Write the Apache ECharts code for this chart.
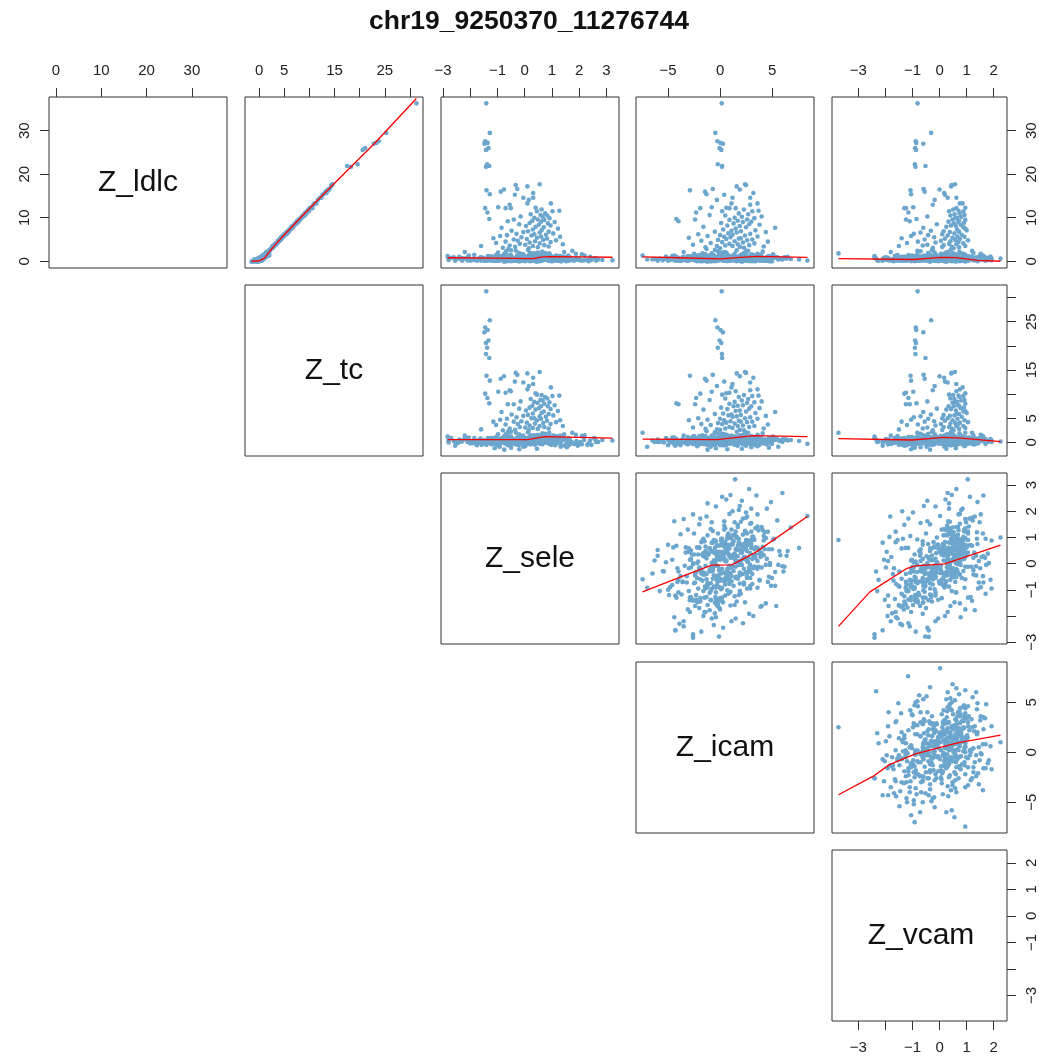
<!DOCTYPE html>
<html>
<head>
<meta charset="utf-8">
<script src="https://cdn.jsdelivr.net/npm/echarts@6/dist/echarts.min.js"></script>
<style>
  html, body { margin: 0; padding: 0; background: #ffffff; }
  #chart { width: 1039px; height: 1057px; }
</style>
</head>
<body>
<div id="chart"></div>
<script>
// Pairwise scatter matrix of association Z statistics for one region.
const titleText = 'chr19_9250370_11276744';
const variables = ['Z_ldlc', 'Z_tc', 'Z_sele', 'Z_icam', 'Z_vcam'];

// Axis tick positions and the subset of them that carry a label
const tickValues = [
  [0, 10, 20, 30],
  [0, 5, 10, 15, 20, 25, 30],
  [-3, -2, -1, 0, 1, 2, 3],
  [-5, 0, 5],
  [-3, -2, -1, 0, 1, 2]
];
const tickLabels = [
  [0, 10, 20, 30],
  [0, 5, 15, 25],
  [-3, -1, 0, 1, 2, 3],
  [-5, 0, 5],
  [-3, -1, 0, 1, 2]
];

// Each row: [Z_ldlc, Z_tc, Z_sele, Z_icam, Z_vcam]
const strongHits = [
  [36.3,31.3,-1.41,0.16,-0.81],[29.5,25.3,-1.28,-0.45,-0.31],[27.6,23.8,-1.45,-0.25,-0.88],
  [27.2,23.3,-1.36,0.05,-0.86],[27.0,22.8,-1.48,0.28,-0.60],[26.0,21.1,-1.33,-0.05,-0.90],
  [25.6,20.6,-1.42,0.12,-0.87],[22.3,19.6,-1.38,-0.22,-0.91],[21.9,17.5,-1.30,0.20,-0.52],
  [21.7,18.3,-1.42,0.18,-0.89]
];

const moderateHits = [
  [17.7,14.6,0.55,2.4,0.57],[17.5,14.4,-0.33,2.5,0.45],[17.2,14.3,0.10,1.6,0.43],[16.6,14.0,-0.27,-0.7,-0.59],
  [16.5,13.7,-0.76,1.9,0.00],[16.3,13.8,-1.40,-2.9,-1.07],[16.0,13.2,-0.88,-1.45,-0.55],[15.7,13.4,0.31,3.2,0.17],
  [15.4,12.8,-1.28,-1.3,-1.05],[15.3,12.6,-0.36,0.4,0.20],[14.6,12.4,-0.05,2.9,0.30],[14.6,12.1,0.31,1.2,0.62],
  [14.1,11.7,0.15,-0.3,-0.18],[13.3,11.0,0.10,3.6,0.75],[13.3,11.4,0.96,1.1,0.85],[13.0,10.8,-0.55,2.9,-0.25],
  [12.4,10.5,-0.97,-0.8,-0.97],[12.3,10.2,0.40,0.6,0.95],[12.2,10.1,-1.45,-1.9,-1.30],[12.2,10.3,-0.70,0.9,-1.24],
  [12.2,10.6,-0.51,1.5,0.62],[11.9,9.8,0.62,2.3,0.50],[11.6,9.7,1.27,3.7,0.70],[11.5,9.6,1.02,3.1,0.88],
  [11.5,9.9,0.45,0.2,0.35],[11.2,9.2,-1.37,-2.3,-1.15],[11.0,9.4,0.75,1.8,0.74],[10.8,9.0,0.22,2.7,0.55],
  [10.6,8.8,0.58,-1.0,0.92],[10.5,9.1,0.83,0.5,0.40],[10.3,8.5,-0.15,4.0,-0.45],[10.2,8.7,0.66,2.1,0.80],
  [10.0,8.4,0.35,1.4,0.65],[9.9,8.3,0.91,3.3,0.58],[9.7,8.1,-1.30,-4.2,-0.85],[9.6,8.2,0.48,2.6,0.48],
  [9.6,7.9,-0.40,-2.4,-1.24],[9.5,8.0,0.72,0.9,0.95],[9.3,7.6,0.28,1.7,0.72],[9.2,7.9,-0.62,-4.0,-1.10],
  [9.1,7.5,0.60,3.0,0.33],[9.0,7.7,1.10,2.2,0.68],[8.8,7.2,0.18,0.1,0.90],[8.7,7.5,0.85,1.3,0.52],
  [8.5,7.0,-0.20,2.8,-0.10],[8.4,7.1,0.52,3.8,0.78],[8.2,6.9,0.95,0.7,0.42],[8.1,6.6,0.05,1.9,0.60],
  [7.9,6.8,0.40,-1.6,0.25],[7.8,6.4,0.70,2.5,0.88],[7.7,6.3,-0.85,5.3,-0.60],[7.5,6.5,1.22,1.5,0.95],
  [7.3,6.0,0.30,0.3,0.65],[7.1,6.1,0.62,3.4,1.00],[7.0,5.8,-0.48,1.1,-0.32],[6.9,5.7,0.12,2.0,0.15],
  [6.8,5.9,0.88,-0.5,0.72],[6.7,5.5,-0.05,4.4,0.38],[6.6,5.4,0.55,1.6,-0.70],[6.4,5.6,1.05,0.8,0.55],
  [6.3,5.2,-0.30,2.9,-0.95],[6.2,5.0,0.35,-2.1,0.10],[6.1,5.3,0.78,1.2,0.82],[6.0,4.9,-0.65,0.0,-0.42],
  [5.9,5.0,0.25,2.4,0.30],[5.8,4.7,-0.90,-1.2,-1.05],[5.7,4.9,0.60,3.6,0.66],[5.6,4.6,1.30,0.4,0.92],
  [5.5,4.4,-0.12,1.0,-0.20],[5.4,4.6,0.45,-3.0,0.48],[5.3,4.3,-1.15,2.0,-1.40],[5.2,4.5,0.82,1.8,0.20],
  [5.1,4.1,0.08,0.6,0.75],[5.0,4.3,-0.40,3.1,-0.55],[4.9,4.0,0.68,-0.2,0.58],[4.8,4.2,1.15,2.6,1.05],
  [4.7,3.8,-0.25,-1.8,0.05],[4.6,3.9,0.38,1.4,0.40],[4.5,3.7,-0.70,4.6,-0.80],[4.4,3.8,0.95,0.2,0.70],
  [4.3,3.5,0.18,2.2,-0.15],[4.2,3.6,-1.05,-0.9,-1.20],[4.1,3.4,0.55,3.3,0.88],[4.0,3.2,-0.18,0.9,0.35],
  [3.9,3.4,1.40,1.7,0.62],[3.8,3.1,0.02,-2.6,-0.45],[3.7,3.2,0.72,2.8,0.15],[3.6,2.9,-0.55,0.5,-0.62],
  [3.5,3.0,0.30,1.2,0.95],[3.5,2.7,-1.60,-0.3,-1.50],[3.4,2.9,0.88,4.2,0.45],[3.3,2.6,-0.35,1.9,0.10],
  [3.2,2.8,0.48,-1.4,0.72],[3.1,2.5,-0.80,2.3,-0.25],[3.0,2.6,0.15,0.0,0.52]
];

const background = [
  [0.2,0.1,-0.35,0.8,-0.12],[0.6,0.4,0.52,1.9,0.40],[1.1,0.9,-1.20,-2.3,-0.75],[0.3,-0.2,0.10,-0.6,0.22],[0.0,-0.6,1.35,3.4,0.95],
  [0.9,1.2,-0.62,0.3,-0.48],[0.4,0.0,0.88,2.7,0.61],[1.6,1.3,-0.08,-1.4,0.05],[0.1,-0.4,-1.75,-3.1,-1.32],[0.7,0.8,0.31,1.1,-0.28],
  [0.5,0.3,-0.91,-0.4,0.18],[2.2,1.9,0.64,4.1,0.73],[0.3,0.1,1.72,2.2,1.10],[0.8,0.5,-0.27,0.0,-0.66],[0.2,-0.3,0.05,1.5,0.34],
  [1.3,1.0,-2.05,-4.4,-1.60],[0.6,0.2,0.40,-1.2,0.83],[0.1,0.3,-0.55,2.6,-0.20],[1.0,1.4,1.05,0.7,0.48],[0.4,-0.1,-0.15,-2.0,-0.95],
  [0.7,0.6,0.75,3.0,0.12],[0.2,-0.5,-1.40,-0.9,-0.41],[1.9,1.5,0.22,0.4,1.25],[0.5,0.7,-0.70,-3.6,-0.88],[0.0,-0.2,2.35,4.9,1.40],
  [0.3,0.2,-0.02,2.0,0.66],[1.4,1.1,-1.05,-1.6,-1.15],[0.8,0.3,0.58,0.9,-0.05],[0.2,0.0,-0.45,-0.2,0.28],[0.6,1.0,1.25,2.4,0.90],
  [1.2,0.8,-0.85,1.3,-0.52],[0.4,0.5,0.35,-2.7,0.07],[0.1,-0.7,-2.55,-4.3,-2.10],[0.9,0.6,0.95,5.2,0.57],[0.5,0.1,-0.30,0.6,-0.30],
  [2.6,2.1,0.12,-0.5,0.41],[0.3,-0.1,-1.62,-2.4,-0.72],[0.7,0.9,0.68,1.7,1.02],[0.2,0.4,-0.12,3.3,-0.58],[1.5,1.2,0.45,-0.1,0.15],
  [0.4,0.2,-0.78,-1.1,-1.05],[0.0,-0.3,1.52,2.9,0.75],[0.6,0.3,-0.20,0.2,0.52],[1.1,0.7,0.82,-1.8,-0.22],[0.3,0.6,-1.10,0.9,-0.15],
  [0.8,0.4,0.18,4.5,0.30],[0.2,-0.4,-0.58,-0.7,-1.40],[1.7,1.6,1.88,3.6,1.52],[0.5,0.2,-0.36,1.0,0.02],[0.1,0.1,0.60,0.5,0.95],
  [0.9,0.7,-1.30,-2.9,-0.62],[0.3,0.0,0.25,2.3,-0.40],[0.6,0.5,-0.05,-0.4,0.78],[2.0,1.7,-0.98,0.1,-0.18],[0.4,-0.2,1.10,1.4,0.25],
  [0.2,0.3,-0.48,-3.2,-0.35],[1.0,0.6,0.70,0.0,1.15],[0.7,0.4,-1.85,-1.5,-1.05],[0.1,-0.5,0.38,3.8,0.50],[0.5,0.8,-0.25,-1.0,-0.70],
  [1.3,0.9,1.60,2.0,0.38],[0.3,0.1,-0.68,0.4,-0.02],[0.0,-0.8,0.02,-2.2,0.60],[0.8,0.9,-2.70,-2.6,-2.40],[0.4,0.3,0.92,3.1,0.82],
  [0.6,0.0,-0.10,1.2,-0.55],[1.8,1.4,0.48,-0.8,0.20],[0.2,0.2,-1.20,1.8,-0.90],[0.9,0.5,0.30,-0.3,1.35],[0.3,-0.3,-0.60,-1.9,0.12],
  [0.5,0.6,1.40,4.0,0.68],[0.1,0.0,-0.40,0.8,-0.38],[1.2,1.0,0.15,-4.6,-0.25],[0.7,0.2,-0.88,-0.6,0.35],[0.2,-0.1,0.55,1.5,0.05],
  [2.4,2.0,-0.32,2.7,-0.82],[0.4,0.4,0.78,0.3,0.44],[0.8,0.3,-1.55,-0.2,-1.25],[0.0,-0.4,0.20,-1.3,0.92],[0.6,0.7,-0.15,3.5,0.27],
  [1.0,0.8,1.00,1.0,-0.10],[0.3,-0.2,-0.72,-2.4,-0.60],[0.5,0.5,0.42,2.1,1.28],[1.4,1.2,-0.50,0.7,-0.15],[0.2,0.1,2.05,1.8,0.80],
  [0.7,0.3,-0.18,-0.9,0.48],[0.1,-0.6,-1.00,-5.0,-1.20],[0.9,1.1,0.60,2.5,0.10],[0.4,0.0,-0.38,0.1,-0.45],[1.6,1.1,0.85,-1.5,0.62],
  [0.3,0.4,-1.45,1.6,-0.28],[0.6,0.2,0.12,0.6,0.35],[0.0,-0.1,-0.65,-1.7,-1.70],[1.1,0.6,1.22,4.6,1.05],[0.5,0.5,0.05,-0.5,-0.08],
  [0.2,-0.3,-0.95,2.9,-0.35],[0.8,0.7,0.50,-2.8,0.58],[0.4,0.1,-0.28,1.3,0.88],[1.9,1.8,0.75,0.2,-0.42],[0.1,0.2,-2.30,-3.9,-1.45],
  [0.6,0.4,0.32,5.8,0.72],[0.3,0.0,-0.52,-0.1,0.15],[1.3,1.3,1.15,0.8,1.60],[0.7,0.5,-1.12,-1.0,-0.78],[0.2,-0.4,0.65,2.2,-0.20],
  [0.5,0.3,-0.08,-3.4,0.30],[0.9,0.9,-0.80,0.5,-1.10],[0.0,-0.5,0.98,1.6,0.55],[1.5,1.0,0.25,3.9,0.95],[0.4,0.2,-1.70,-2.0,-0.50],
  [0.2,0.1,0.45,-0.7,0.02],[0.8,0.6,-0.35,1.9,0.68],[2.8,2.3,-0.60,-1.3,-0.25],[0.3,-0.2,1.80,2.6,1.30],[0.6,0.8,-0.22,0.0,-0.62],
  [1.0,0.5,0.08,-2.1,-0.88],[0.1,0.0,-1.38,-0.4,-0.05],[0.7,0.6,0.55,4.3,0.42],[0.4,0.1,-0.42,-1.6,0.75],[1.2,1.4,1.30,1.1,0.18],
  [0.3,0.3,-0.15,2.8,-0.30],[0.5,-0.1,0.70,-0.3,1.12],[0.9,0.4,-2.10,-0.8,-1.55],[0.2,0.2,0.28,0.9,-0.48],[1.7,1.3,-0.75,-2.5,0.05],
  [0.0,-0.3,1.02,3.2,0.62],[0.6,0.5,-0.50,0.6,-0.15],[0.4,0.7,0.35,-1.1,0.32],[1.1,0.9,-1.25,1.4,-1.30],[0.3,-0.1,0.88,0.1,0.88],
  [0.8,0.2,-0.30,-4.0,-0.68],[0.2,0.4,0.18,2.4,0.50],[2.1,1.7,1.45,0.4,0.28],[0.5,0.3,-0.82,-0.3,0.12],[0.1,-0.2,-0.05,1.8,-0.82],
  [0.7,0.8,0.62,-2.2,0.95],[0.4,0.0,-1.58,-1.2,-0.98],[1.3,1.1,0.40,2.9,-0.12],[0.2,-0.6,-0.62,0.3,0.40],[0.9,0.7,1.65,5.5,1.22],
  [0.5,0.2,-0.45,-0.6,-0.25],[0.1,0.1,0.22,1.0,0.70],[0.6,0.4,-2.80,-2.6,-0.40],[1.4,0.8,0.80,-0.8,0.35],[0.3,0.5,-0.12,3.7,-1.00],
  [0.8,0.6,0.10,0.5,1.45],[0.2,-0.2,-1.05,-3.0,-1.22],[1.0,1.2,0.52,1.6,0.08],[0.4,0.1,-0.25,-0.1,-0.55],[0.6,0.3,1.20,2.5,0.52],
  [0.3,0.0,-0.68,1.1,0.25],[1.8,1.5,0.35,-1.7,0.78],[0.5,0.4,-1.50,-0.5,-0.62],[0.1,-0.3,0.90,3.0,1.05],[0.9,0.8,-0.15,-2.8,-0.18],
  [0.4,0.6,0.58,0.7,-0.35],[0.7,0.2,-0.40,2.2,0.15],[0.2,0.1,1.58,1.4,0.98],[1.2,0.7,-0.95,-1.4,-0.92],[0.6,0.5,0.02,4.8,0.38],
  [0.0,-0.4,-0.22,-0.8,0.62],[0.8,1.0,0.72,1.2,-0.05],[0.3,0.2,-1.85,-2.9,-1.62],[1.5,1.2,0.28,0.0,0.55],[0.5,0.0,-0.58,1.7,-0.42],
  [0.2,0.3,1.08,-1.2,0.28],[0.6,0.6,-0.12,3.3,1.18],[2.3,1.8,-0.68,-0.2,-0.70],[0.4,-0.1,0.48,2.0,0.02],[0.1,0.0,-1.18,-3.7,-0.35],
  [1.0,0.9,0.38,0.8,0.68],[0.3,-0.3,-0.35,-1.5,-1.08],[0.7,0.5,2.60,3.5,1.62],[0.4,0.4,-0.78,0.9,0.20],[1.1,0.6,0.12,-0.6,-0.30],
  [0.5,0.2,-0.48,2.6,0.45],[0.2,0.5,0.85,-0.4,-0.62],[0.9,0.3,-1.32,-1.9,0.08],[0.6,0.7,0.22,1.3,0.90],[1.6,1.4,-0.05,2.1,-0.15],
  [0.3,-0.2,0.62,-3.3,0.48],[0.8,0.4,-0.92,0.2,-1.25],[0.1,0.2,0.32,4.2,0.15],[1.3,1.0,-0.28,-1.0,0.60],[0.4,0.3,1.35,0.5,0.35],
  [0.7,0.9,-0.65,-0.3,-0.48],[0.2,-0.1,0.05,2.7,-0.92],[1.0,0.6,-2.40,-3.5,-1.10],[0.5,0.3,0.95,1.8,1.38],[0.0,-0.2,-0.18,-1.9,-0.05],
  [2.0,1.6,0.48,0.6,0.25],[0.4,0.1,-0.55,1.5,0.82],[0.6,0.8,1.25,-0.7,0.40],[0.3,0.0,-1.02,0.7,-0.60],[0.9,0.5,0.18,3.1,-0.38],
  [0.1,-0.4,-0.32,-2.3,0.38],[0.7,0.7,0.78,2.4,0.72],[1.2,0.8,-0.75,-0.9,-0.82],[0.3,0.2,0.42,0.2,0.05],[0.5,0.1,-1.60,1.0,-1.35],
  [0.8,0.5,0.98,4.4,0.95],[0.2,0.0,-0.10,-0.2,-0.42],[1.4,1.3,0.60,-2.0,0.55],[0.6,0.2,-0.45,1.9,-0.20],[0.3,0.5,2.85,2.8,0.62],
  [0.9,0.6,-0.88,-1.3,-1.48],[0.4,0.3,0.30,1.3,0.30],[0.1,-0.5,-0.52,-0.5,0.50],[1.1,1.0,1.42,3.6,1.08],[0.5,0.4,-0.18,-3.0,-0.68],
  [0.2,-0.1,-1.22,0.5,-0.15],[1.7,1.2,0.18,1.4,0.88],[0.7,0.6,-0.38,-1.8,-0.35],[0.3,0.0,0.72,0.6,-0.08],[0.6,0.9,-0.85,2.9,0.22],
  [1.0,0.7,0.25,-0.2,1.55],[0.4,0.2,-2.00,-1.6,-1.92],[0.0,-0.3,0.55,5.0,0.45],[0.8,0.4,-0.08,0.9,-0.60],[0.5,0.6,1.08,1.2,0.15],
  [0.3,0.1,-0.70,-4.1,-0.52],[1.3,0.9,0.42,2.0,0.32],[0.6,0.3,-0.25,-0.7,0.65],[0.2,0.4,0.15,0.4,-1.02],[2.5,2.2,-0.50,1.6,-0.28],
  [0.7,0.5,0.65,-1.4,0.18],[0.1,-0.2,-1.48,-2.2,-0.80],[0.9,0.8,0.35,3.4,1.00],[0.4,0.0,-0.60,0.0,-0.25],[0.6,0.3,1.90,0.9,0.75],
  [0.3,0.2,-0.02,-2.6,-0.12],[1.1,0.7,-1.08,1.0,-0.55],[0.5,0.6,0.82,2.6,0.60],[0.2,-0.4,-0.30,-0.9,0.42],[1.5,1.1,0.52,0.7,-0.35],
  [0.8,0.4,-0.62,3.8,0.08],[0.0,0.1,0.40,-0.5,0.98],[0.6,0.5,-1.68,-0.1,-1.18],[0.4,0.3,0.10,1.6,-0.70],[1.0,0.8,1.15,-2.5,0.35],
  [0.2,-0.3,-0.40,0.9,0.30],[0.7,0.4,0.58,-1.0,-0.30],[1.9,1.7,-0.20,2.3,0.50],[0.3,0.0,-0.90,-4.8,-0.95],[0.5,0.7,0.68,0.3,1.20],
  [0.9,0.6,-0.12,1.5,-0.05],[0.1,0.0,1.28,4.1,0.28],[0.6,0.2,-0.78,-1.2,0.18],[0.3,0.4,0.20,-0.3,-0.40],[1.2,0.9,-1.35,-2.7,-1.65],
  [2.4,2.0,1.75,2.5,1.20],[1.6,1.3,2.10,3.0,0.35],[2.1,1.4,-2.20,-3.5,-1.80]
];

// Second batch of low-signal observations with a wider spread
const backgroundWide = [
  [0.4,0.1,-1.90,-0.5,-1.75],[0.2,-0.6,1.12,-3.8,0.42],[1.0,0.4,0.48,6.5,-0.35],[0.6,0.9,-2.20,1.1,-0.15],[0.1,-0.3,0.95,-1.6,1.70],
  [0.5,0.0,-0.30,-5.4,-1.48],[1.3,1.5,2.20,1.9,-0.58],[0.3,-0.8,-0.92,3.6,0.92],[0.8,0.3,0.15,-2.9,-2.05],[0.2,0.2,-1.48,2.4,0.55],
  [0.7,0.5,1.58,-0.8,1.48],[0.0,-1.1,-0.50,4.7,-0.92],[1.5,0.9,-1.85,-1.4,0.30],[0.4,0.4,0.62,-4.5,-0.20],[0.9,0.6,-0.12,6.2,0.95],
  [0.3,-0.5,2.45,0.6,0.22],[0.6,0.2,-2.35,-0.6,-1.38],[0.1,0.1,0.30,-6.0,-0.72],[1.1,0.8,-0.72,2.3,1.62],[0.5,-0.2,1.72,-1.9,-1.15],
  [0.2,0.6,-1.62,4.0,-1.88],[0.8,0.1,0.38,-1.1,1.78],[0.4,-0.9,-0.05,5.6,-0.48],[1.2,1.1,1.30,-3.1,0.08],[0.6,0.4,-1.20,-4.9,-0.30],
  [0.3,0.0,0.82,0.2,-1.62],[0.7,0.8,-0.45,-2.4,1.35],[0.1,-0.4,2.10,4.5,0.85],[0.9,0.3,-2.60,-1.8,-0.88],[0.4,0.5,0.45,-0.3,-1.95],
  [1.4,1.0,-0.18,3.2,1.50],[0.2,-0.7,1.48,1.7,-1.30],[0.6,0.1,-1.05,-5.8,0.45],[0.3,0.3,0.02,-0.8,1.82],[0.8,0.6,-0.85,4.9,-1.52],
  [0.5,-0.3,1.88,-2.6,0.70],[0.1,0.2,-0.62,0.9,-2.25],[1.0,0.7,0.68,-4.2,0.12],[0.4,-0.1,-1.92,2.8,-0.62],[0.7,0.9,2.55,0.2,1.12],
  [0.2,-0.4,-0.25,-2.0,1.25],[1.6,1.2,0.92,5.1,-0.82],[0.3,0.2,-1.38,-0.9,-2.02],[0.6,0.0,0.22,3.4,1.68],[0.9,0.5,-0.70,-3.6,0.58],
  [0.1,-0.6,1.62,0.4,-0.45],[0.5,0.4,-0.40,-1.3,-1.72],[0.8,0.2,0.75,2.0,1.40],[0.2,0.1,-2.10,1.5,-0.05],[1.1,0.9,0.05,-5.2,-0.95],
  [0.4,-0.2,1.05,4.2,-1.08],[0.6,0.6,-0.90,-0.1,1.52],[0.3,-0.5,2.30,-1.2,0.35],[0.7,0.3,-1.65,3.9,-1.42],[0.2,0.0,0.42,-3.3,1.05],
  [0.9,0.7,-0.15,1.1,-1.98],[0.1,-0.3,-1.10,-4.0,0.62],[0.5,0.5,1.38,6.8,0.48],[1.3,0.8,-0.55,-2.2,-0.15],[0.4,0.2,0.60,-0.5,-1.25],
  [0.6,-0.1,-2.45,0.3,-0.45],[0.2,0.4,0.88,-1.7,1.92],[0.8,0.5,-0.32,5.3,0.25],[0.3,-0.7,1.95,2.5,-0.98],[1.0,0.6,-1.28,-2.8,1.15],
  [0.5,0.1,0.12,-6.3,-1.05],[0.1,0.0,-0.78,3.1,-1.60],[0.7,0.8,1.15,-0.2,-0.50],[0.4,-0.4,-1.78,-1.0,1.30],[1.2,0.9,0.55,4.7,0.90],
  [0.3,0.3,-0.48,-3.8,1.60],[0.6,-0.2,2.00,1.2,-1.38],[0.2,0.1,-1.05,1.9,-2.30],[0.9,0.4,0.35,-2.5,-0.92],[0.5,0.6,-0.10,6.0,1.35],
  [0.0,-0.9,1.32,-0.9,0.18],[0.8,0.2,-1.52,4.4,0.75],[0.4,0.5,0.72,-5.0,-0.62],[1.1,0.7,-0.62,0.6,1.88],[0.2,-0.3,0.25,-1.4,-1.78],
  [0.7,0.4,-2.28,2.2,-1.15],[0.3,0.1,1.70,-3.5,0.95],[0.5,-0.5,-0.20,3.6,-0.28],[1.4,1.3,0.90,-0.6,-1.55],[0.1,0.2,-0.95,-2.1,1.42],
  [0.6,0.3,0.48,5.7,-0.75],[0.2,-0.1,-1.30,-1.5,1.05],[0.9,0.6,1.50,-2.0,-0.35],[0.4,0.4,-0.38,-6.5,0.55],[0.8,0.1,0.10,2.6,-1.90],
  [0.3,-0.6,-1.75,0.0,0.95],[1.0,0.8,0.58,-3.0,-1.40],[0.5,0.2,-0.05,4.8,1.72],[0.2,0.5,2.18,-0.4,-0.15],[0.7,0.0,-0.82,-4.6,-1.22],
  [0.4,0.3,1.02,1.6,-1.85],[0.1,-0.2,-2.00,3.2,0.20],[1.2,1.0,0.28,-1.6,1.62],[0.6,0.4,-0.55,5.0,-0.88],[0.3,-0.4,1.62,-4.4,0.32],
  [0.8,0.7,-1.15,0.8,1.70],[0.5,0.1,0.80,-0.7,-2.10],[0.2,0.3,-0.28,-5.5,-0.18],[0.9,0.5,1.22,3.0,-1.62],[0.4,-0.3,-1.42,-2.6,1.20],
  [0.6,0.6,0.30,6.4,0.62],[0.3,0.0,-0.72,-3.2,1.45],[1.0,0.4,2.40,2.1,-0.45],[0.2,-0.5,-1.58,1.4,-1.50],[0.7,0.2,0.62,-2.0,0.10],
  [0.5,0.5,-0.18,-4.1,-1.68],[0.1,-0.1,1.20,4.3,1.38],[0.8,0.3,-2.05,-0.4,0.78],[0.4,0.6,0.52,-6.0,0.25],[1.3,1.1,-0.65,3.8,-1.02],
  [0.2,-0.2,1.80,-1.3,-1.82],[0.6,0.1,-0.95,2.6,1.92],[0.3,0.4,0.18,-2.8,-0.62],[0.9,0.8,-1.62,5.4,0.40],[0.5,-0.1,0.95,0.1,-1.35],
  [0.7,0.3,-0.42,-1.5,1.25],[0.1,0.1,2.62,1.0,0.45],[0.4,-0.4,-1.22,-4.3,-1.90],[1.1,0.7,0.40,4.0,-0.70],[0.3,0.2,-0.12,-0.6,1.05]
];

// Isolated observations at the edges of the clouds
const outlyingPoints = [
  [1.8,2.0,0.90,2.5,-3.73],[1.3,2.0,-0.60,-7.45,0.95],[0.4,-0.9,-0.92,-7.0,-0.92],
  [0.15,-0.3,1.82,8.4,0.02],[0.2,0.4,3.22,1.45,1.04],[1.2,1.2,-2.83,-2.6,-2.40],
  [0.3,0.0,-2.79,-0.1,-0.53],[0.5,0.1,-2.55,-4.3,-0.40],[0.6,0.2,1.00,1.0,2.25],
  [0.4,0.3,0.60,7.6,-1.16],[0.7,0.6,-0.30,6.1,-2.34],[0.4,0.1,2.70,6.0,0.30],
  [-0.1,-1.5,-0.75,-1.2,-0.35],[-0.1,-1.3,0.45,2.1,0.25],[0.1,-1.2,-1.10,-0.4,0.60],
  [0.2,-1.0,1.55,3.0,-0.70],[0.0,-1.4,-0.20,0.7,-1.05]
];

// Lowess smooths, as [x, y] points, one per upper panel (y variable, x variable)
const smoothLdlcTc = [[-1.5,0.0],[-0.5,0.05],[0.13,0.15],[1.13,0.77],[2.13,2.3],[3.13,3.7],[4.13,5.0],[9.0,10.9],[14.1,16.9],[22.8,26.9],[31.3,37.4]];
const smoothLdlcSele = [[-2.83,0.8],[-1.0,0.7],[0.3,0.62],[0.6,0.95],[0.9,1.05],[2.0,1.0],[3.22,0.92]];
const smoothLdlcIcam = [[-7.45,1.0],[-4.0,0.8],[0.0,0.55],[2.0,0.9],[3.5,1.1],[8.4,0.9]];
const smoothLdlcVcam = [[-3.73,0.6],[-0.95,0.4],[0.06,0.9],[0.6,0.85],[1.4,0.2],[2.25,0.0]];
const smoothTcSele = [[-2.83,0.56],[0.12,0.56],[0.73,1.2],[3.22,0.9]];
const smoothTcIcam = [[-7.45,0.7],[-0.3,0.56],[3.2,1.4],[8.4,1.2]];
const smoothTcVcam = [[-3.73,0.8],[-1.0,0.5],[0.13,1.05],[0.8,0.9],[2.25,0.15]];
const smoothSeleIcam = [[-7.45,-1.08],[-3.9,-0.53],[-0.8,-0.06],[1.12,-0.05],[3.37,0.42],[8.4,1.8]];
const smoothSeleVcam = [[-3.73,-2.4],[-2.58,-1.09],[-1.2,-0.18],[-0.89,-0.09],[0.19,-0.01],[2.25,0.71]];
const smoothIcamVcam = [[-3.73,-4.26],[-2.46,-2.42],[-1.85,-1.24],[-0.89,-0.17],[0.67,0.94],[2.25,1.71]];

const smoothFor = {
  '0-1': smoothLdlcTc, '0-2': smoothLdlcSele, '0-3': smoothLdlcIcam, '0-4': smoothLdlcVcam,
  '1-2': smoothTcSele, '1-3': smoothTcIcam, '1-4': smoothTcVcam,
  '2-3': smoothSeleIcam, '2-4': smoothSeleVcam, '3-4': smoothIcamVcam
};

const observations = strongHits.concat(moderateHits, background, backgroundWide, outlyingPoints);

// Axis range per variable: data range widened by 4% on each side
const ranges = variables.map((_, k) => {
  const vals = observations.map(r => r[k]);
  const lo = Math.min(...vals), hi = Math.max(...vals);
  const pad = (hi - lo) * 0.04;
  return [lo - pad, hi + pad];
});

// Panel layout (pixels)
const cellLeft = [49, 245, 441, 636, 832];
const cellTop = [97, 285, 473, 662, 850];
const cellW = 178, cellH = 171;

const FONT = "'Liberation Sans', Arial, Helvetica, sans-serif";
const ink = '#222222';
const pointColor = '#6ca6cd';
const fmt = v => String(v).replace('-', '\u2212');

function valueAxis(k, gridIndex, position, visible, isY) {
  return {
    type: 'value', gridIndex, position,
    min: ranges[k][0], max: ranges[k][1],
    axisLine: { show: false, onZero: false },
    splitLine: { show: false },
    axisPointer: { show: false },
    axisTick: {
      show: visible, inside: false, length: 9,
      lineStyle: { color: '#333333', width: 1 },
      customValues: tickValues[k]
    },
    axisLabel: {
      show: visible, customValues: tickLabels[k], formatter: fmt,
      rotate: isY ? 90 : 0, margin: isY ? 17 : 19,
      fontSize: 15, fontFamily: FONT, color: ink
    }
  };
}

const grids = [], xAxes = [], yAxes = [], series = [];
const graphics = [{
  type: 'text', x: 529, y: 22,
  style: { text: titleText, fontSize: 26.5, fontWeight: 'bold', fontFamily: FONT, fill: '#111111', align: 'center', verticalAlign: 'middle' }
}];

const n = variables.length;
for (let r = 0; r < n; r++) {
  for (let c = r; c < n; c++) {
    const gi = grids.length;
    grids.push({
      left: cellLeft[c], top: cellTop[r], width: cellW, height: cellH,
      show: true, borderColor: '#333333', borderWidth: 1, backgroundColor: 'transparent',
      containLabel: false
    });
    const showTop = r === 0;
    const showBottom = r === n - 1 && c === n - 1;
    xAxes.push(valueAxis(c, gi, showBottom ? 'bottom' : 'top', showTop || showBottom, false));
    const showLeft = r === 0 && c === 0;
    const showRight = c === n - 1;
    yAxes.push(valueAxis(r, gi, showRight ? 'right' : 'left', showLeft || showRight, true));

    if (r === c) {
      graphics.push({
        type: 'text', x: cellLeft[c] + cellW / 2, y: cellTop[r] + cellH / 2,
        style: { text: variables[r], fontSize: 30, fontFamily: FONT, fill: '#111111', align: 'center', verticalAlign: 'middle' }
      });
    } else {
      series.push({
        type: 'scatter', xAxisIndex: gi, yAxisIndex: gi,
        data: observations.map(o => [o[c], o[r]]),
        symbol: 'circle', symbolSize: 4.6,
        itemStyle: { color: pointColor, opacity: 1 },
        silent: true, animation: false
      });
      series.push({
        type: 'line', xAxisIndex: gi, yAxisIndex: gi,
        data: smoothFor[r + '-' + c],
        showSymbol: false, symbol: 'none',
        lineStyle: { color: '#ff0000', width: 1.3 },
        silent: true, animation: false, z: 3
      });
    }
  }
}

const chart = echarts.init(document.getElementById('chart'), null, { renderer: 'canvas' });
chart.setOption({
  backgroundColor: '#ffffff',
  animation: false,
  grid: grids,
  xAxis: xAxes,
  yAxis: yAxes,
  series: series,
  graphic: graphics
});
</script>
</body>
</html>
